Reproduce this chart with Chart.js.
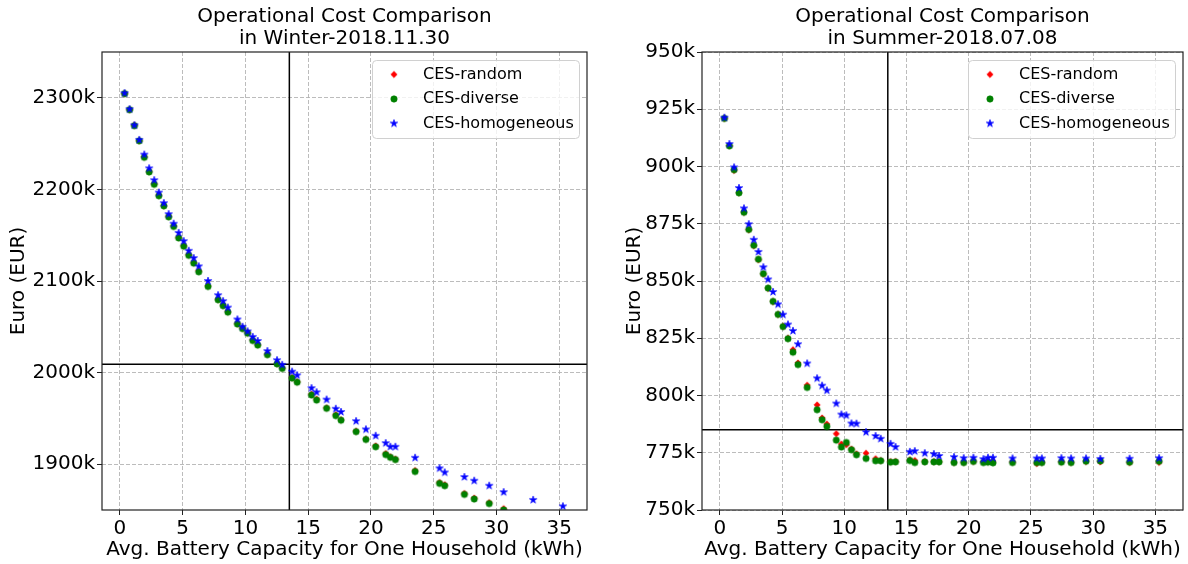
<!DOCTYPE html>
<html>
<head>
<meta charset="utf-8">
<title>Operational Cost Comparison</title>
<script src="https://cdn.jsdelivr.net/npm/chart.js"></script>
<style>
  html, body { margin: 0; padding: 0; background: #fff; }
  #wrap { position: relative; width: 1188px; height: 564px; overflow: hidden; }
  canvas { position: absolute; top: 0; }
  #winter { left: 0; }
  #summer { left: 614px; }
</style>
</head>
<body>
<div id="wrap">
  <canvas id="winter" width="594" height="564"></canvas>
  <canvas id="summer" width="574" height="564"></canvas>
</div>
<script>
// avg. battery capacity per household (kWh), shared by all runs
const capacityKWh = [0.37, 0.77, 1.15, 1.54, 1.94, 2.33, 2.73, 3.1, 3.5, 3.88,
  4.28, 4.68, 5.08, 5.48, 5.88, 6.28, 7.02, 7.82, 8.22, 8.6,
  9.36, 9.77, 10.17, 10.58, 10.98, 11.75, 12.52, 12.93, 13.72, 14.12,
  15.27, 15.67, 16.47, 17.2, 17.62, 18.82, 19.6, 20.38, 21.18, 21.55,
  21.95, 23.52, 25.47, 25.88, 27.45, 28.23, 29.43, 30.58, 32.93, 35.3];

// operational cost, thousand EUR - winter day 2018.11.30
const winterRandom = [2304.5, 2287, 2270, 2253, 2235.5, 2219.5, 2206, 2193.5, 2182, 2170.5,
  2160, 2147.5, 2138.5, 2128.5, 2120, 2111, 2094.5, 2080, 2073.5, 2066.5,
  2053.5, 2048.5, 2043.5, 2035.5, 2030.5, 2020, 2010, 2005, 1994.5, 1990,
  1976.5, 1971, 1961.5, 1954, 1948.5, 1936, 1927.5, 1920, 1911.5, 1908,
  1905.5, 1893, 1880, 1877.5, 1868, 1863, 1858, 1851.5, 1839, 1828];
const winterDiverse = [2304.5, 2287, 2269.5, 2253, 2235, 2219, 2205.5, 2193, 2182, 2170,
  2159.5, 2147, 2138, 2128, 2119.5, 2110, 2094, 2079.5, 2073, 2066,
  2053, 2048, 2043, 2035, 2030, 2019.5, 2009.5, 2004.5, 1994, 1989.5,
  1975.5, 1970, 1961, 1953, 1948, 1935.5, 1927, 1919, 1910.5, 1907.5,
  1905, 1892, 1879, 1876.5, 1867, 1862, 1857, 1850, 1838, 1827];
const winterHomogeneous = [2305, 2287.5, 2270, 2254, 2238, 2223, 2210, 2196.5, 2185, 2173,
  2162.5, 2152.5, 2143.5, 2133, 2125, 2116, 2100, 2084.5, 2078, 2071,
  2058, 2050, 2045, 2039, 2034.5, 2023.5, 2013.5, 2008.5, 2001, 1997,
  1983, 1978.5, 1970.5, 1960.5, 1957, 1947, 1938, 1931, 1923, 1919,
  1919, 1907, 1895.5, 1891, 1886, 1882, 1876.5, 1869.5, 1861, 1854];

// operational cost, thousand EUR - summer day 2018.07.08
const summerRandom = [921, 909, 898.3, 888.5, 880, 872.3, 865.4, 859.3, 853, 846.8,
  841, 835.4, 830.2, 825, 820, 814.2, 804.5, 795.9, 790.2, 787.5,
  783.3, 778.8, 778.5, 776.6, 774.5, 774.8, 772.4, 771.6, 771.1, 771.2,
  771.9, 771.6, 771.2, 771.1, 771.1, 770.8, 770.8, 771.2, 771, 771.2,
  771.2, 770.9, 770.3, 770.8, 771, 770.8, 771.2, 771, 770.7, 770.8];
const summerDiverse = [921, 909, 898.6, 888.5, 880, 872.5, 865.6, 859.5, 853.2, 846.9,
  841.1, 835.4, 830.1, 824.8, 818.9, 813.5, 803.5, 793.8, 789.4, 786.5,
  780.5, 777.5, 779.5, 776.3, 774.1, 772.5, 771.5, 771.5, 770.9, 771,
  771.6, 770.7, 771, 771, 771, 770.7, 770.7, 771.2, 770.7, 770.9,
  770.6, 770.7, 770.7, 770.7, 770.9, 770.7, 771.3, 771.4, 770.9, 771.3];
const summerHomogeneous = [921.3, 909.8, 899.6, 890.6, 881.7, 874.8, 868, 862.7, 856, 850.7,
  845.2, 839.8, 835.3, 831, 828.2, 822.4, 814, 807.5, 804.3, 802.2,
  796.5, 791.7, 791.3, 787.8, 787.7, 784, 782.3, 781.1, 778.9, 777.5,
  775.4, 775.7, 774.8, 774.4, 773.6, 773.1, 772.6, 772.8, 772.2, 772.8,
  772.8, 772.5, 772.5, 772.5, 772.6, 772.5, 772.5, 772.3, 772.4, 772.6];

const seriesNames = ['CES-random', 'CES-diverse', 'CES-homogeneous'];
const xTicks = [0, 5, 10, 15, 20, 25, 30, 35];
const winterTicks = [1900, 2000, 2100, 2200, 2300];
const summerTicks = [750, 775, 800, 825, 850, 875, 900, 925, 950];

// reference capacity / cost cross-hair
const refCapacity = 13.5;
const winterRefCost = 2009;
const summerRefCost = 785;

Chart.defaults.font.family = 'DejaVu Sans';
Chart.defaults.color = '#000';

// marker sprites (matplotlib style: filled diamond, circle, 5-point star)
function marker(color, shape) {
  var c = document.createElement('canvas');
  c.width = c.height = 10;
  var ctx = c.getContext('2d');
  ctx.translate(5, 5);
  ctx.fillStyle = color;
  ctx.strokeStyle = color;
  ctx.lineWidth = 0.6;
  ctx.beginPath();
  if (shape === 'circle') {
    ctx.arc(0, 0, 3.2, 0, Math.PI * 2);
  } else if (shape === 'diamond') {
    ctx.moveTo(0, -3.2); ctx.lineTo(3.2, 0); ctx.lineTo(0, 3.2); ctx.lineTo(-3.2, 0);
  } else {
    for (var i = 0; i < 10; i++) {
      var r = i % 2 === 0 ? 4 : 4 * 0.382;
      var a = -Math.PI / 2 + i * Math.PI / 5;
      ctx.lineTo(r * Math.cos(a), r * Math.sin(a));
    }
  }
  ctx.closePath();
  ctx.fill();
  ctx.stroke();
  return c;
}

var markers = [marker('#ff0000', 'diamond'), marker('#008000', 'circle'), marker('#0000ff', 'star')];

function points(values) {
  return capacityKWh.map(function (x, i) { return { x: x, y: values[i] }; });
}

// cross-hair, full axes frame and boxed legend
var framePlugin = {
  id: 'frame',
  beforeDatasetsDraw: function (chart, args, opts) {
    var ca = chart.chartArea, ctx = chart.ctx;
    var px = chart.scales.x.getPixelForValue(opts.refX);
    var py = chart.scales.y.getPixelForValue(opts.refY);
    ctx.save();
    ctx.strokeStyle = '#000';
    ctx.lineWidth = 1.5;
    ctx.beginPath();
    ctx.moveTo(px, ca.top); ctx.lineTo(px, ca.bottom);
    ctx.moveTo(ca.left, py); ctx.lineTo(ca.right, py);
    ctx.stroke();
    ctx.restore();
  },
  afterDraw: function (chart) {
    var ca = chart.chartArea, ctx = chart.ctx;
    ctx.save();
    ctx.strokeStyle = '#222';
    ctx.lineWidth = 1.2;
    ctx.strokeRect(ca.left, ca.top, ca.right - ca.left, ca.bottom - ca.top);

    // legend box
    var w = 207, h = 78;
    var bx = ca.right - 8 - w, by = ca.top + 8;
    ctx.beginPath();
    ctx.roundRect(bx + 0.5, by + 0.5, w, h, 4);
    ctx.fillStyle = 'rgba(255,255,255,0.8)';
    ctx.fill();
    ctx.strokeStyle = '#d0d0d0';
    ctx.lineWidth = 1;
    ctx.stroke();
    ctx.font = '16px "DejaVu Sans"';
    ctx.fillStyle = '#000';
    ctx.textBaseline = 'middle';
    chart.data.datasets.forEach(function (ds, i) {
      var cy = by + 14.5 + i * 24.5;
      ctx.drawImage(ds.pointStyle, bx + 22 - 5, cy - 5);
      ctx.fillText(ds.label, bx + 51, cy);
    });
    ctx.restore();
  }
};

function makeChart(id, title, series, yTicks, yMin, yMax, refCost, axisWidth, padRight, yTitlePad) {
  var datasets = series.map(function (values, i) {
    return {
      label: seriesNames[i],
      data: points(values),
      pointStyle: markers[i],
      pointRadius: 4,
      order: 3 - i
    };
  });
  return new Chart(document.getElementById(id), {
    type: 'scatter',
    data: { datasets: datasets },
    options: {
      responsive: false,
      animation: false,
      events: [],
      layout: { padding: { left: 0, right: padRight, top: 0, bottom: 0 } },
      plugins: {
        legend: { display: false },
        tooltip: { enabled: false },
        title: {
          display: true,
          fullSize: false,
          text: title,
          color: '#000',
          font: { size: 20, weight: 'normal', lineHeight: 1.1 },
          padding: { top: 6, bottom: 2 }
        },
        frame: { refX: refCapacity, refY: refCost }
      },
      scales: {
        x: {
          type: 'linear',
          min: -1.43,
          max: 37.22,
          afterBuildTicks: function (s) { s.ticks = xTicks.map(function (v) { return { value: v }; }); },
          afterFit: function (s) { s.height = 54; },
          ticks: { font: { size: 20 }, color: '#000', padding: 2, maxRotation: 0 },
          grid: { color: 'rgba(176,176,176,0.85)', lineWidth: 1, tickLength: 5, tickColor: '#222', tickWidth: 1, tickBorderDash: [] },
          border: { display: false, dash: [4, 2] },
          title: { display: true, text: 'Avg. Battery Capacity for One Household (kWh)', font: { size: 20 }, color: '#000', padding: { top: 0, bottom: 2 } }
        },
        y: {
          type: 'linear',
          min: yMin,
          max: yMax,
          afterBuildTicks: function (s) { s.ticks = yTicks.map(function (v) { return { value: v }; }); },
          afterFit: function (s) { s.width = axisWidth; },
          ticks: { font: { size: 20 }, color: '#000', padding: 2, callback: function (v) { return v + 'k'; } },
          grid: { color: 'rgba(176,176,176,0.85)', lineWidth: 1, tickLength: 5, tickColor: '#222', tickWidth: 1, tickBorderDash: [] },
          border: { display: false, dash: [4, 2] },
          title: { display: true, text: 'Euro (EUR)', font: { size: 20 }, color: '#000', padding: { top: yTitlePad, bottom: 0 } }
        }
      }
    },
    plugins: [framePlugin]
  });
}

makeChart('winter', ['Operational Cost Comparison', 'in Winter-2018.11.30'],
  [winterRandom, winterDiverse, winterHomogeneous], winterTicks, 1850, 2350, winterRefCost, 102, 7, 7);
makeChart('summer', ['Operational Cost Comparison', 'in Summer-2018.07.08'],
  [summerRandom, summerDiverse, summerHomogeneous], summerTicks, 750, 950, summerRefCost, 88, 1, 9);
</script>
</body>
</html>
